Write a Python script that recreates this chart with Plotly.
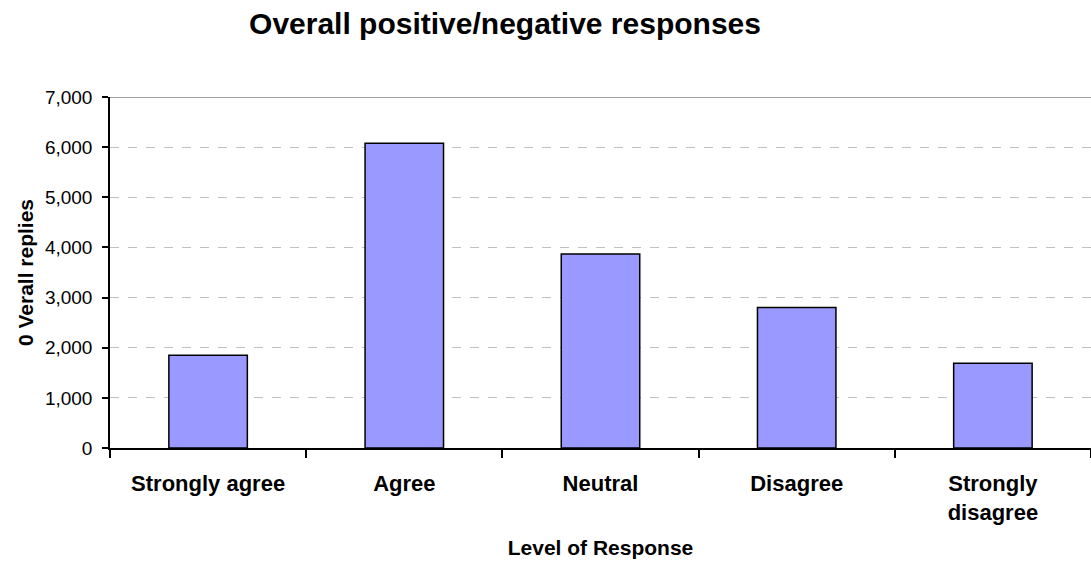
import plotly.graph_objects as go

categories = ["Strongly agree", "Agree", "Neutral", "Disagree", "Strongly<br>disagree"]
values = [1850, 6080, 3870, 2800, 1690]
y_ticks = [0, 1000, 2000, 3000, 4000, 5000, 6000, 7000]
y_tick_labels = ["0", "1,000", "2,000", "3,000", "4,000", "5,000", "6,000", "7,000"]

FONT = "Liberation Sans, Arial, sans-serif"

fig = go.Figure()
fig.add_trace(go.Bar(
    x=categories, y=values, width=0.4,
    marker=dict(color="#9999FF", line=dict(color="#000000", width=1.5)),
))

fig.update_layout(
    width=1091, height=563,
    margin=dict(l=110, r=0, t=97, b=115),
    paper_bgcolor="white", plot_bgcolor="white",
    showlegend=False,
    font=dict(family=FONT, color="black"),
    title=dict(text="<b>Overall positive/negative responses</b>", x=505 / 1091, xanchor="center",
               y=1 - 23 / 563, yanchor="middle", font=dict(size=30, family=FONT)),
)
fig.update_xaxes(
    type="category", range=[-0.5, 4.5],
    showline=True, linecolor="#000000", linewidth=1.5,
    ticks="outside", tickson="boundaries", ticklen=8, tickcolor="#000000", tickwidth=1.5,
    tickfont=dict(size=22, family=FONT),
    tickprefix="<b>", ticksuffix="</b>",
    ticklabelstandoff=15,
    title=dict(text="<b>Level of Response</b>", font=dict(size=21), standoff=17),
    showgrid=False,
)
fig.update_yaxes(
    range=[0, 7000], tickvals=y_ticks, ticktext=y_tick_labels,
    showline=True, linecolor="#000000", linewidth=1.5,
    ticks="outside", ticklen=6, tickcolor="#000000", tickwidth=1.5,
    tickfont=dict(size=19),
    ticklabelstandoff=6,
    showgrid=True, gridcolor="#C0C0C0", griddash="dash", gridwidth=1,
    title=dict(text="<b>0 Verall replies</b>", font=dict(size=21), standoff=6),
    zeroline=False,
)
fig.add_shape(type="line", xref="paper", yref="y", x0=0, x1=1, y0=7000, y1=7000,
              line=dict(color="#808080", width=1.5))

fig.write_html("out.html")
